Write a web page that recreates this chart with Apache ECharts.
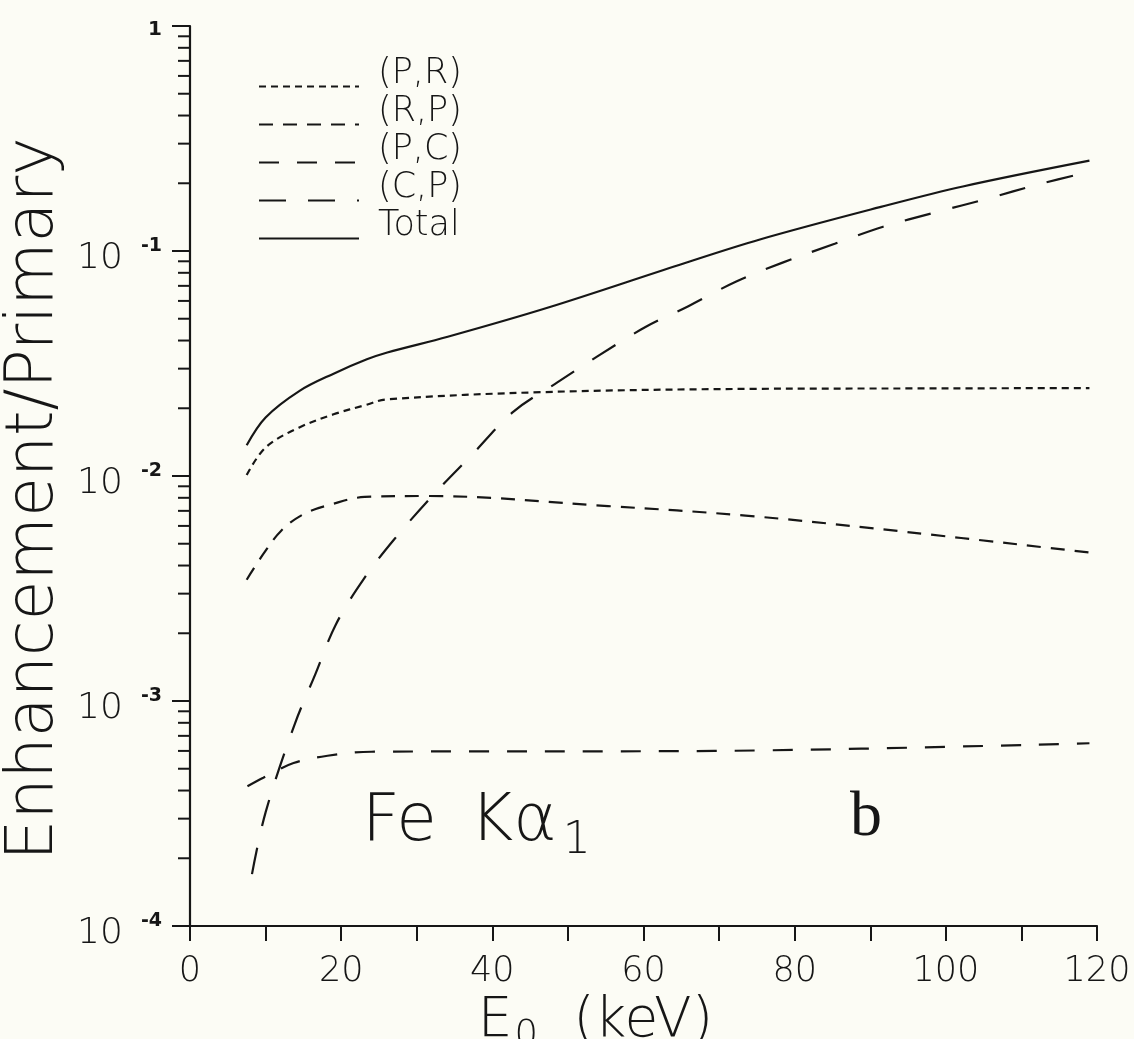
<!DOCTYPE html>
<html>
<head>
<meta charset="utf-8">
<title>Fe Ka1 enhancement</title>
<script src="https://cdn.jsdelivr.net/npm/echarts@6/dist/echarts.min.js"></script>
<style>
html, body { margin: 0; padding: 0; background: #fcfcf5; }
#chart { width: 1134px; height: 1039px; }
</style>
</head>
<body>
<div id="chart"></div>
<script>
// values (E0 in keV, ratio to primary)
const prE = [7.5, 10.0, 14.4, 19.0, 23.3, 26.0, 46.8, 74.7, 96.7, 119.0]
const prV = [0.0101, 0.0134, 0.0164, 0.0188, 0.0207, 0.0219, 0.0236, 0.0244, 0.0245, 0.0246]

const rpE = [7.5, 9.8, 12.1, 15.1, 18.7, 23.1, 31.5, 55.3, 73.5, 91.1, 119.0]
const rpV = [0.00346, 0.00455, 0.00573, 0.00679, 0.00748, 0.00807, 0.00815, 0.00735, 0.00667, 0.00582, 0.00457]

const pcE = [7.6, 9.7, 13.7, 18.2, 24.0, 69.4, 119.0]
const pcV = [0.000418, 0.000456, 0.00053, 0.000571, 0.000595, 0.0006, 0.000649]

const cpE = [8.2, 10.0, 13.8, 16.6, 19.3, 23.0, 27.0, 32.4, 37.4, 42.8, 48.6, 53.9, 60.2, 66.0, 72.2, 78.4, 85.3, 91.7, 98.6, 105.6, 112.2, 119.0]
const cpV = [0.00017, 0.00032, 0.00078, 0.00132, 0.00219, 0.00349, 0.00522, 0.00839, 0.01253, 0.01933, 0.02606, 0.034, 0.0458, 0.057, 0.073, 0.0888, 0.1077, 0.1282, 0.1484, 0.1711, 0.1977, 0.225]

const totE = [7.5, 10.0, 14.5, 19.0, 23.4, 26.1, 34.1, 47.4, 64.7, 75.4, 91.4, 102.4, 119.0]
const totV = [0.0137, 0.0182, 0.0239, 0.0285, 0.033, 0.0354, 0.0416, 0.0561, 0.0867, 0.1125, 0.157, 0.194, 0.252]

// axis decorations
const xLabelStep = 20
const yMinorMantissa = [2, 3, 4, 5, 6, 7, 8, 9]
const yDecades = [1e-4, 1e-3, 1e-2, 1e-1]

const ink = '#161616'
const font = "'DejaVu Sans', sans-serif"

const zip = (xs, ys) => xs.map((x, i) => [x, ys[i]])

const minorTicks = []
yDecades.forEach(d => {
  yMinorMantissa.forEach(m => minorTicks.push([0, m * d]))
})

const curve = (name, xs, ys, dash) => ({
  name: name,
  type: 'line',
  data: zip(xs, ys),
  showSymbol: false,
  symbol: 'none',
  smooth: 0.35,
  lineStyle: { color: ink, width: 2.2, type: dash || 'solid' },
  itemStyle: { color: ink },
  z: 3
})

const chart = echarts.init(document.getElementById('chart'))

const option = {
  backgroundColor: '#fcfcf5',
  animation: false,
  grid: { left: 190, right: 37, top: 26, bottom: 113, containLabel: false, outerBoundsMode: 'none' },
  legend: {
    orient: 'vertical',
    left: 253,
    top: 51,
    itemWidth: 100,
    itemHeight: 14,
    itemGap: -23,
    selectedMode: false,
    itemStyle: { opacity: 0 },
    data: ['(P,R)', '(R,P)', '(P,C)', '(C,P)', 'Total'],
    formatter: name => '{t|' + name + '}',
    textStyle: {
      color: ink,
      rich: {
        t: {
          fontFamily: font,
          fontWeight: 200,
          fontSize: 35,
          color: ink,
          lineHeight: 14,
          padding: [0, 0, 26, 14]
        }
      }
    }
  },
  xAxis: {
    type: 'value',
    min: 0,
    max: 120,
    interval: 10,
    name: '{e|E}{s|0}{e|  (keV)}',
    nameLocation: 'middle',
    nameGap: 62,
    nameMoveOverlap: false,
    nameTextStyle: {
      padding: [0, 96, 0, 0],
      rich: {
        e: { fontFamily: font, fontWeight: 200, fontSize: 55, color: ink },
        s: { fontFamily: font, fontWeight: 200, fontSize: 37, color: ink, padding: [30, 0, 0, 2] }
      }
    },
    axisLine: { lineStyle: { color: ink, width: 2.2 } },
    axisTick: { show: true, inside: false, length: 15, lineStyle: { color: ink, width: 2 } },
    axisLabel: {
      margin: 28,
      fontFamily: font,
      fontWeight: 200,
      fontSize: 35,
      color: ink,
      formatter: v => (v % xLabelStep === 0 ? String(v) : '')
    },
    splitLine: { show: false }
  },
  yAxis: {
    type: 'log',
    logBase: 10,
    min: 1e-4,
    max: 1,
    name: 'Enhancement/Primary',
    nameLocation: 'middle',
    nameRotate: 90,
    nameGap: 122,
    nameMoveOverlap: false,
    nameTextStyle: {
      fontFamily: font,
      fontWeight: 200,
      fontSize: 65,
      color: ink,
      padding: [0, 46, 0, 0]
    },
    axisLine: { show: true, lineStyle: { color: ink, width: 2.2 } },
    axisTick: { show: true, inside: false, length: 18, lineStyle: { color: ink, width: 2 } },
    axisLabel: {
      margin: 28,
      color: ink,
      padding: [16, 0, 0, 0],
      formatter: v => {
        const k = Math.round(Math.log10(v))
        if (k === 0) return '{o|1}'
        return '{a|10}{s|' + k + '}'
      },
      rich: {
        a: { fontFamily: font, fontWeight: 200, fontSize: 36, color: ink },
        o: { fontFamily: font, fontWeight: 'bold', fontSize: 20, color: ink, padding: [0, 0, 8, 0] },
        s: { fontFamily: font, fontWeight: 'bold', fontSize: 19, color: ink, padding: [0, 0, 26, 18] }
      }
    },
    splitLine: { show: false }
  },
  graphic: [
    {
      type: 'text',
      left: 362,
      top: 790,
      style: {
        text: '{t|Fe\u2002K\u03b1}{u|1}',
        rich: {
          t: { fontFamily: font, fontWeight: 200, fontSize: 66, fill: ink },
          u: { fontFamily: font, fontWeight: 200, fontSize: 44, fill: ink, padding: [38, 0, 0, 6] }
        }
      }
    },
    {
      type: 'text',
      left: 850,
      top: 786,
      style: {
        text: 'b',
        fontFamily: "'Liberation Serif', serif",
        fontSize: 64,
        fill: ink
      }
    }
  ],
  series: [
    curve('(P,R)', prE, prV, [7, 5]),
    curve('(R,P)', rpE, rpV, [14, 10]),
    curve('(P,C)', pcE, pcV, [20, 18]),
    curve('(C,P)', cpE, cpV, [27, 22]),
    curve('Total', totE, totV, 'solid'),
    {
      // minor log ticks on the left of the y axis
      type: 'custom',
      silent: true,
      clip: false,
      data: minorTicks,
      renderItem: (params, api) => {
        const p = api.coord([api.value(0), api.value(1)])
        return {
          type: 'line',
          shape: { x1: p[0] - 12, y1: p[1], x2: p[0], y2: p[1] },
          style: { stroke: ink, lineWidth: 2 }
        }
      },
      z: 4
    }
  ]
}

chart.setOption(option)
</script>
</body>
</html>
